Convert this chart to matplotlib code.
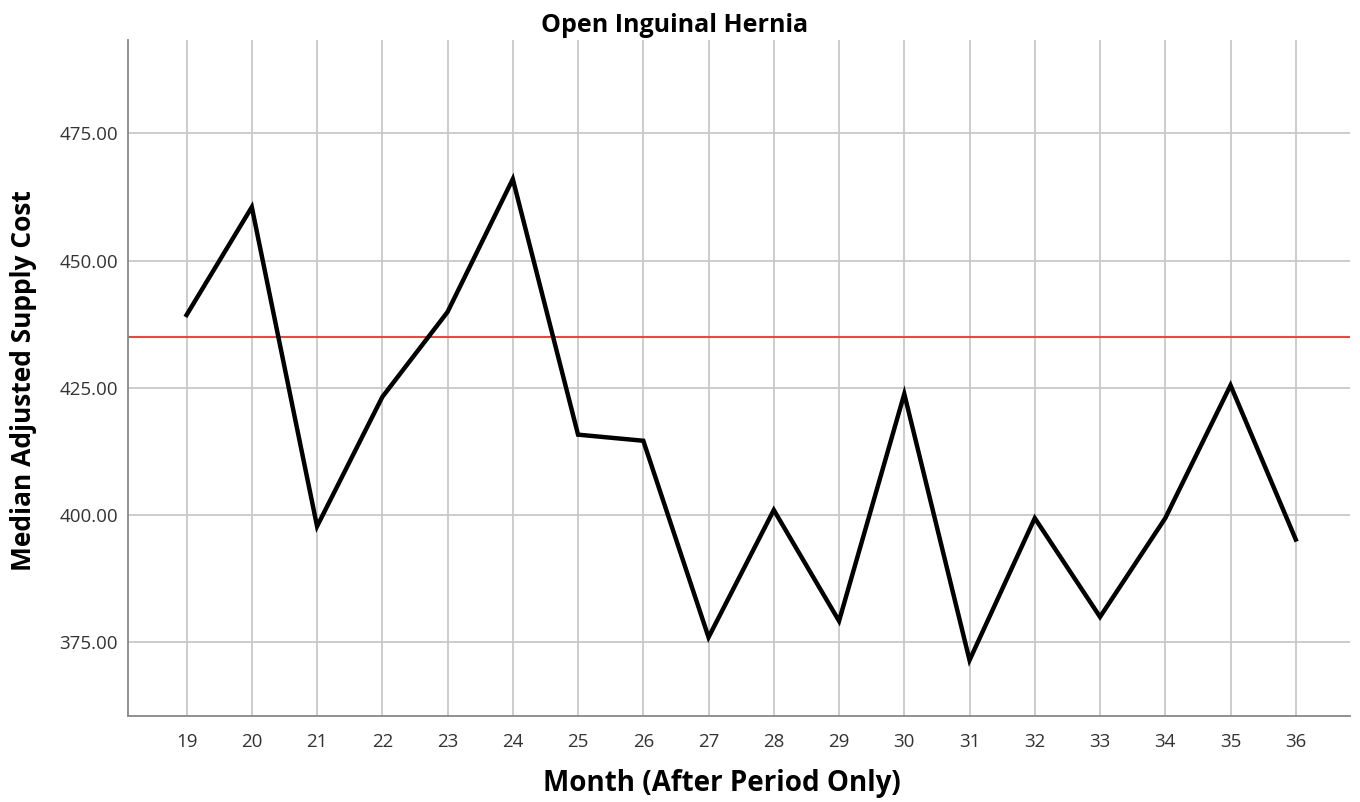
import matplotlib
matplotlib.use("Agg")
import matplotlib.pyplot as plt

months = [19, 20, 21, 22, 23, 24, 25, 26, 27, 28, 29, 30, 31, 32, 33, 34, 35, 36]
median_cost = [439.3, 460.5, 397.8, 423.2, 439.9, 466.0, 415.8, 414.6, 376.0,
               401.0, 379.2, 423.8, 371.5, 399.4, 380.0, 399.4, 425.5, 395.2]
reference_value = 435.0
y_ticks = [375, 400, 425, 450, 475]

fig = plt.figure(figsize=(13.6, 8.02), dpi=100)
ax = fig.add_axes([0.094, 0.107, 0.8986, 0.843])

ax.set_xlim(18.1, 36.83)
ax.set_ylim(360.5, 493.3)

ax.set_xticks(months)
ax.set_xticklabels([str(m) for m in months])
ax.set_yticks(y_ticks)
ax.set_yticklabels([f"{v:.2f}" for v in y_ticks])

ax.grid(True, color="#c8c8c8", linewidth=1.3)
ax.set_axisbelow(True)

ax.axhline(reference_value, color="#e8474a", linewidth=1.5, zorder=2)
ax.plot(months, median_cost, color="black", linewidth=3.2, zorder=3,
        solid_joinstyle="miter")

for s in ["top", "right"]:
    ax.spines[s].set_visible(False)
for s in ["left", "bottom"]:
    ax.spines[s].set_color("#888888")
    ax.spines[s].set_linewidth(1.3)

ax.tick_params(axis="both", length=0, labelsize=13.5, colors="#333333", pad=7)
ax.tick_params(axis="x", pad=12)
for lab in ax.get_xticklabels() + ax.get_yticklabels():
    lab.set_family("Open Sans")

fig.text(0.4963, 0.968, "Open Inguinal Hernia", fontsize=18, fontweight="bold",
         family="Open Sans", ha="center", va="center")
fig.text(0.531, 0.0235, "Month (After Period Only)", fontsize=20, fontweight="bold",
         family="Open Sans", ha="center", va="center")
fig.text(0.0175, 0.526, "Median Adjusted Supply Cost", fontsize=19, fontweight="bold",
         family="Open Sans", ha="center", va="center", rotation=90)

fig.savefig("out.png", dpi=100)
